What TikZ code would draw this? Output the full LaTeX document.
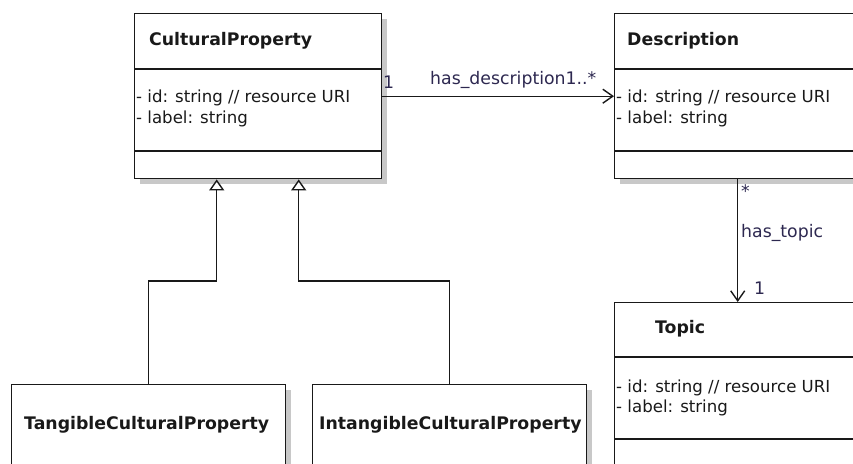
\documentclass[tikz,border=0pt]{standalone}
\usepackage{fontspec}
\setmainfont{DejaVu Sans}
\usetikzlibrary{arrows.meta,shadows,calc}
\definecolor{lbl}{RGB}{45,40,80}
\definecolor{shade}{RGB}{200,200,200}
\definecolor{ink}{RGB}{25,25,25}
\begin{document}
\begin{tikzpicture}[x=1pt,y=-1pt,
  font=\fontsize{16.6}{20.5}\selectfont,
  classbox/.style={draw=ink, line width=1.4pt, fill=white, anchor=north west,
    inner sep=0pt, minimum width=#1,
    drop shadow={shadow xshift=5pt, shadow yshift=-5pt, fill=shade, opacity=1}},
  classbox/.default=247pt,
  divider/.style={draw=ink, line width=1.4pt},
  title/.style={anchor=west, inner sep=0pt, text=ink, font=\fontsize{17.3}{20}\selectfont\bfseries},
  attrs/.style={anchor=west, inner sep=0pt, align=left, text=ink},
  assoc/.style={draw=ink, line width=1.4pt, -{Straight Barb[length=10pt, width=14pt, line width=1.4pt]}},
  gen/.style={draw=ink, line width=1.4pt, -{Triangle[open, length=11pt, width=15pt, line width=1.4pt, fill=white]}},
  rolelbl/.style={inner sep=0pt, text=lbl, font=\fontsize{17.3}{20}\selectfont},
]
\useasboundingbox (0,0) rectangle (853,463);
\clip (0,0) rectangle (853,463);

% classes
\node[classbox=247pt, minimum height=165pt] (cp) at (134,13) {};
\draw[divider] (134,69) -- (381,69) (134,151) -- (381,151);
\node[title] (cpname) at (149,41) {CulturalProperty};
\node[attrs] (cpattr) at (136,108.5) {- id: string // resource URI\\- label: string};

\node[classbox=246pt, minimum height=165pt] (desc) at (614,13) {};
\draw[divider] (614,69) -- (860,69) (614,151) -- (860,151);
\node[title] (descname) at (627,41) {Description};
\node[attrs] (descattr) at (616,108.5) {- id: string // resource URI\\- label: string};

\node[classbox=246pt, minimum height=200pt] (topic) at (614,302) {};
\draw[divider] (614,357) -- (860,357) (614,439) -- (860,439);
\node[title] (topicname) at (655,329) {Topic};
\node[attrs] (topicattr) at (616,398) {- id: string // resource URI\\- label: string};

\node[classbox=274pt, minimum height=120pt] (tang) at (11,384) {};
\node[title] (tangname) at (24,425) {TangibleCulturalProperty};

\node[classbox=274pt, minimum height=120pt] (intang) at (312,384) {};
\node[title] (intangname) at (319,425) {IntangibleCulturalProperty};

% associations
\draw[assoc] (cp.east) -- (desc.west);
\node[rolelbl, anchor=west] (m1) at (383,82) {1};
\node[rolelbl, anchor=west] (hasdesc) at (430,80) {has\_description1..*};

\draw[assoc] (desc.south) -- (topic.north);
\node[rolelbl, anchor=west] (m2) at (741,191) {*};
\node[rolelbl, anchor=west] (hastopic) at (741,233) {has\_topic};
\node[rolelbl, anchor=west] (m3) at (754,288) {1};

% generalisations
\coordinate (g1) at ($(cp.south)+(-41.5,0)$);
\coordinate (g2) at ($(cp.south)+(40.5,0)$);
\draw[gen] (tang.north) -- ++(0,-103) -| (g1);
\draw[gen] (intang.north) -- ++(0,-103) -| (g2);
\end{tikzpicture}
\end{document}
